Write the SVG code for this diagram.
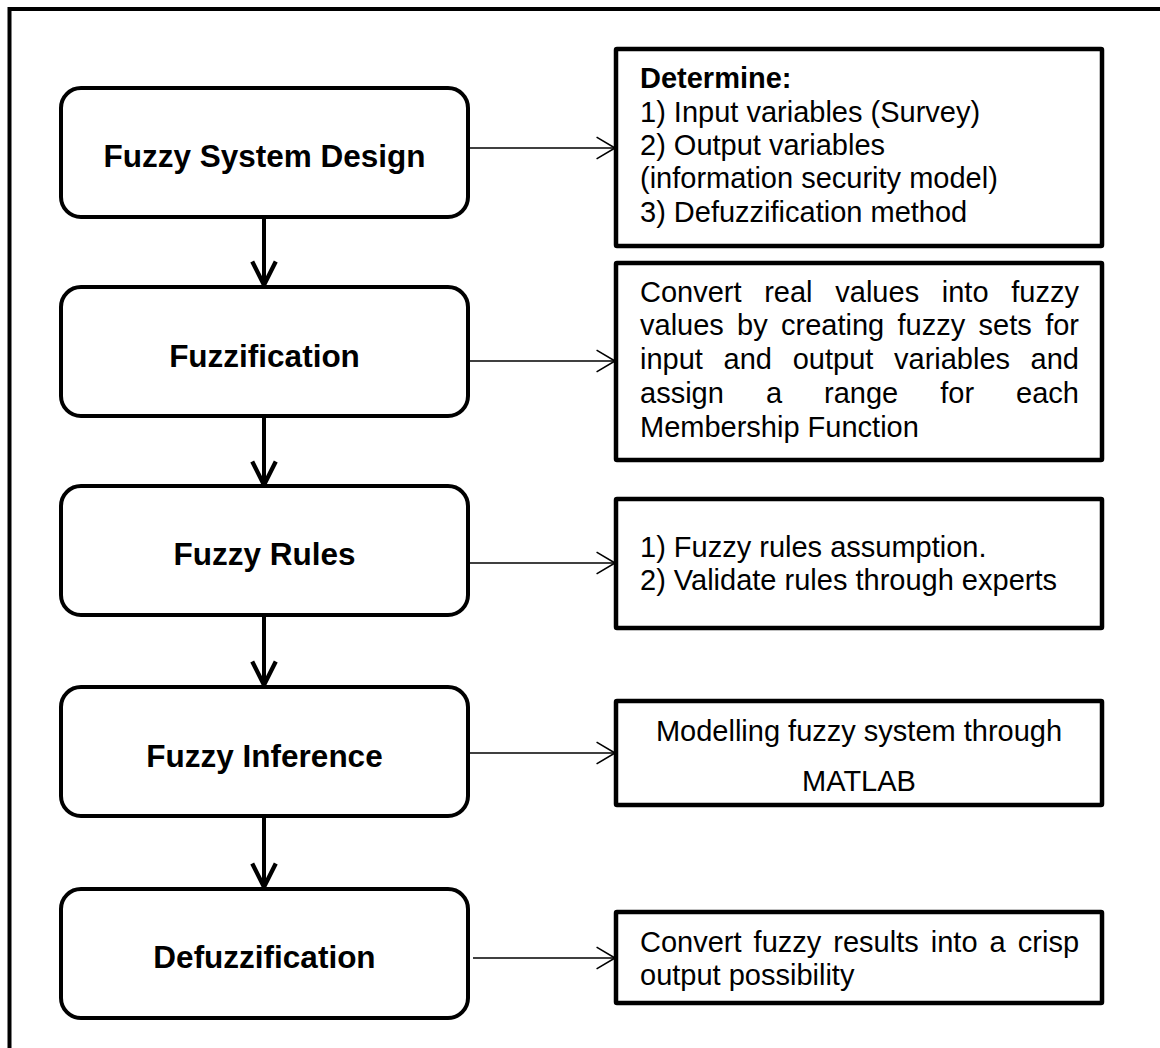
<svg xmlns="http://www.w3.org/2000/svg" width="1160" height="1048" viewBox="0 0 1160 1048">
<style>
.frame{fill:none;stroke:#000;stroke-width:4}
.step{fill:#fff;stroke:#000;stroke-width:4}
.note{fill:#fff;stroke:#000;stroke-width:4.5}
.title{font-family:"Liberation Sans",Arial,sans-serif;font-weight:bold;font-size:31.5px;fill:#000;text-anchor:middle}
.txt{font-family:"Liberation Sans",Arial,sans-serif;font-size:29px;fill:#000}
.b{font-weight:bold}
.thick{stroke:#000;stroke-width:4;fill:none}
.thin{stroke:#000;stroke-width:1.5;fill:none}
</style>
<defs>
<marker id="ah" markerUnits="userSpaceOnUse" markerWidth="30" markerHeight="30" viewBox="-2 -2 28 28" refX="22" refY="11" orient="auto">
<path d="M0,0 L22,11 L0,22" fill="none" stroke="#000" stroke-width="4"/>
</marker>
<marker id="at" markerUnits="userSpaceOnUse" markerWidth="24" markerHeight="26" viewBox="-2 -2 22 24" refX="17" refY="10" orient="auto">
<path d="M0,0 L17,10 L0,20" fill="none" stroke="#000" stroke-width="1.5"/>
</marker>
</defs>
<rect class="frame" x="9.5" y="9" width="1200" height="1100"/>

<g id="connectors">
<line class="thick" x1="264" y1="217" x2="264" y2="285" marker-end="url(#ah)"/>
<line class="thick" x1="264" y1="416" x2="264" y2="485" marker-end="url(#ah)"/>
<line class="thick" x1="264" y1="615" x2="264" y2="685" marker-end="url(#ah)"/>
<line class="thick" x1="264" y1="816" x2="264" y2="887" marker-end="url(#ah)"/>
<line class="thin" x1="468" y1="148" x2="615" y2="148" marker-end="url(#at)"/>
<line class="thin" x1="468" y1="361" x2="615" y2="361" marker-end="url(#at)"/>
<line class="thin" x1="468" y1="563" x2="615" y2="563" marker-end="url(#at)"/>
<line class="thin" x1="468" y1="753" x2="615" y2="753" marker-end="url(#at)"/>
<line class="thin" x1="473" y1="958" x2="615" y2="958" marker-end="url(#at)"/>
</g>

<g id="n-design">
<rect class="step" x="61" y="88" width="407" height="129" rx="20"/>
<text class="title" x="264.5" y="167">Fuzzy System Design</text>
</g>
<g id="n-fuzzification">
<rect class="step" x="61" y="287" width="407" height="129" rx="20"/>
<text class="title" x="264.5" y="367">Fuzzification</text>
</g>
<g id="n-rules">
<rect class="step" x="61" y="486" width="407" height="129" rx="20"/>
<text class="title" x="264.5" y="565">Fuzzy Rules</text>
</g>
<g id="n-inference">
<rect class="step" x="61" y="687" width="407" height="129" rx="20"/>
<text class="title" x="264.5" y="767">Fuzzy Inference</text>
</g>
<g id="n-defuzz">
<rect class="step" x="61" y="889" width="407" height="129" rx="20"/>
<text class="title" x="264.5" y="968">Defuzzification</text>
</g>

<g id="d-design">
<rect class="note" x="616" y="49" width="486" height="197" rx="1"/>
<text class="txt b" x="640" y="88">Determine:</text>
<text class="txt" x="640" y="122">1) Input variables (Survey)</text>
<text class="txt" x="640" y="155">2) Output variables</text>
<text class="txt" x="640" y="188">(information security model)</text>
<text class="txt" x="640" y="222">3) Defuzzification method</text>
</g>
<g id="d-fuzzification">
<rect class="note" x="616" y="263" width="486" height="197" rx="1"/>
<text class="txt" y="302"><tspan x="640">Convert</tspan><tspan x="764.2">real</tspan><tspan x="835.3">values</tspan><tspan x="941.8">into</tspan><tspan x="1011.3">fuzzy</tspan></text>
<text class="txt" y="335"><tspan x="640">values</tspan><tspan x="737.1">by</tspan><tspan x="781">creating</tspan><tspan x="897.5">fuzzy</tspan><tspan x="978.5">sets</tspan><tspan x="1045.2">for</tspan></text>
<text class="txt" y="369"><tspan x="640">input</tspan><tspan x="723.6">and</tspan><tspan x="792.7">output</tspan><tspan x="894">variables</tspan><tspan x="1030.6">and</tspan></text>
<text class="txt" y="403"><tspan x="640">assign</tspan><tspan x="765.9">a</tspan><tspan x="824">range</tspan><tspan x="940.3">for</tspan><tspan x="1016.1">each</tspan></text>
<text class="txt" x="640" y="437">Membership Function</text>
</g>
<g id="d-rules">
<rect class="note" x="616" y="499" width="486" height="129" rx="1"/>
<text class="txt" x="640" y="557">1) Fuzzy rules assumption.</text>
<text class="txt" x="640" y="590">2) Validate rules through experts</text>
</g>
<g id="d-inference">
<rect class="note" x="616" y="701" width="486" height="104" rx="1"/>
<text class="txt" x="859" y="741" text-anchor="middle">Modelling fuzzy system through</text>
<text class="txt" x="859" y="791" text-anchor="middle">MATLAB</text>
</g>
<g id="d-defuzz">
<rect class="note" x="616" y="912" width="486" height="91" rx="1"/>
<text class="txt" y="952"><tspan x="640">Convert</tspan><tspan x="753.6">fuzzy</tspan><tspan x="833.3">results</tspan><tspan x="930.8">into</tspan><tspan x="989.6">a</tspan><tspan x="1017.8">crisp</tspan></text>
<text class="txt" x="640" y="985">output possibility</text>
</g>
</svg>
